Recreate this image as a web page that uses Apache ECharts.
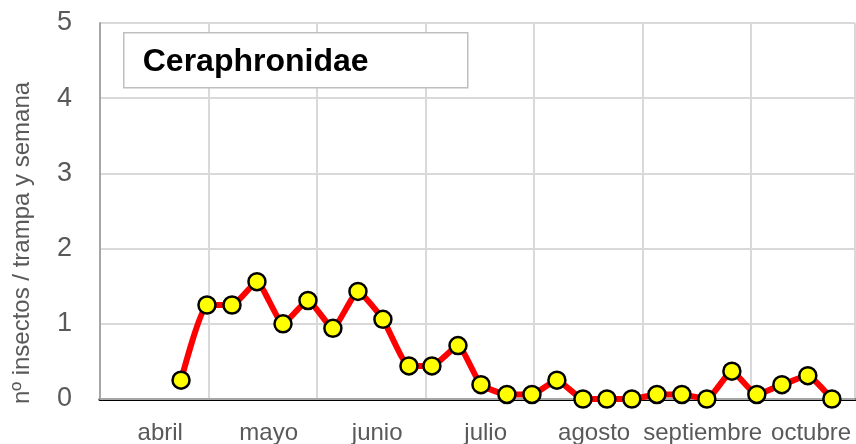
<!DOCTYPE html>
<html>
<head>
<meta charset="utf-8">
<script src="https://cdn.jsdelivr.net/npm/echarts@6/dist/echarts.min.js"></script>
<style>
  html, body { margin: 0; padding: 0; background: #fff; }
  #chart { width: 856px; height: 444px; }
</style>
</head>
<body>
<div id="chart"></div>
<script>
// meses del eje x (una banda por mes)
var meses = ["abril", "mayo", "junio", "julio", "agosto", "septiembre", "octubre"];
// posición de cada muestreo semanal, en meses desde el 1 de abril
var semanas = [0.747, 0.986, 1.217, 1.447, 1.687, 1.917, 2.147, 2.378, 2.608, 2.848,
  3.060, 3.300, 3.512, 3.751, 3.982, 4.212, 4.452, 4.673, 4.903, 5.134,
  5.364, 5.594, 5.825, 6.055, 6.286, 6.525, 6.747];
// nº insectos / trampa y semana
var capturas = [0.25, 1.25, 1.25, 1.56, 1.0, 1.31, 0.94, 1.43, 1.06, 0.44,
  0.44, 0.71, 0.19, 0.06, 0.06, 0.25, 0, 0, 0, 0.06,
  0.06, 0, 0.37, 0.06, 0.19, 0.31, 0];
var yTicks = [0, 1, 2, 3, 4, 5];

var xMax = 6.96;
var gris = "#595959";
var font = "Liberation Sans, Arial, sans-serif";

var chart = echarts.init(document.getElementById("chart"));
var option = {
  animation: false,
  grid: { left: 100, right: 1, top: 23, bottom: 45, containLabel: false, outerBoundsMode: "none" },
  xAxis: [
    {
      // eje de datos: rejilla vertical y borde superior negro
      type: "value",
      position: "top",
      min: 0,
      max: xMax,
      interval: 1,
      axisLine: { show: true, lineStyle: { color: "#000", width: 3 } },
      axisTick: { show: false },
      axisLabel: { show: false },
      splitLine: { show: true, lineStyle: { color: "#d9d9d9", width: 2 } }
    },
    {
      // etiquetas de los meses, centradas en cada banda
      type: "value",
      position: "bottom",
      min: 0,
      max: xMax,
      interval: 0.5,
      axisLine: { show: true, onZero: false, lineStyle: { color: "#a6a6a6", width: 2 } },
      axisTick: { show: false },
      splitLine: { show: false },
      axisLabel: {
        show: true,
        showMinLabel: false,
        showMaxLabel: false,
        margin: 22,
        padding: [0, 0, 0, 12],
        color: gris,
        fontSize: 24,
        fontFamily: font,
        formatter: function (v) {
          var i = Math.round(v * 2);
          return i % 2 === 1 ? meses[(i - 1) / 2] : "";
        }
      }
    }
  ],
  yAxis: {
    type: "value",
    min: yTicks[0],
    max: yTicks[yTicks.length - 1],
    interval: 1,
    name: "nº insectos / trampa y semana",
    nameLocation: "middle",
    nameGap: 66,
    nameTextStyle: { color: gris, fontSize: 24, fontFamily: font, padding: [0, 64, 0, 0] },
    axisLine: { show: true, lineStyle: { color: "#a6a6a6", width: 2 } },
    axisTick: { show: false },
    axisLabel: { margin: 28, color: gris, fontSize: 27, fontFamily: font },
    splitLine: { show: true, lineStyle: { color: "#d9d9d9", width: 2 } }
  },
  graphic: [
    {
      type: "group",
      left: 123,
      top: 32,
      z: 100,
      children: [
        {
          type: "rect",
          z: 100,
          shape: { x: 0, y: 0, width: 344, height: 55 },
          style: { fill: "#fff", stroke: "#bfbfbf", lineWidth: 1.5 }
        },
        {
          type: "text",
          z: 101,
          x: 19,
          y: 29,
          style: {
            text: "Ceraphronidae",
            fill: "#000",
            font: "bold 32px " + font,
            textVerticalAlign: "middle"
          }
        }
      ]
    }
  ],
  series: [
    {
      type: "line",
      xAxisIndex: 0,
      smooth: 0.15,
      data: semanas.map(function (x, i) { return [x, capturas[i]]; }),
      symbol: "circle",
      symbolSize: 17,
      lineStyle: { color: "#ff0000", width: 6 },
      itemStyle: { color: "#ffff00", borderColor: "#000", borderWidth: 2.5 },
      z: 5
    }
  ]
};
chart.setOption(option);
</script>
</body>
</html>
